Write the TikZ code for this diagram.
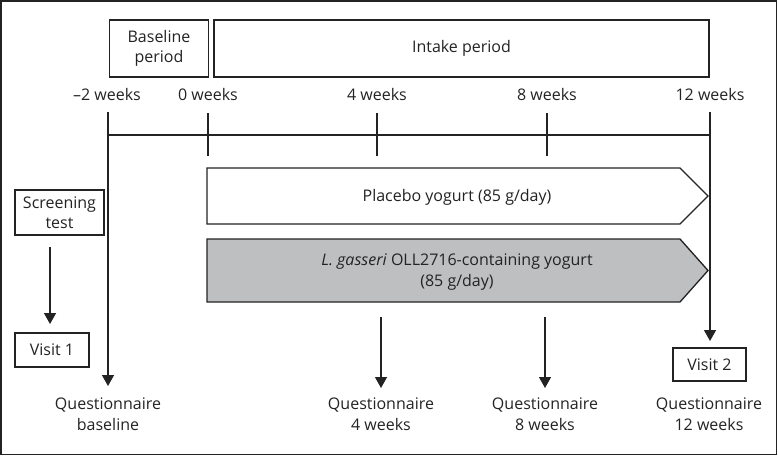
\documentclass[tikz,border=0pt]{standalone}
\usepackage{fontspec}
\setmainfont{Open Sans}
\usetikzlibrary{arrows.meta}
\definecolor{boxgray}{RGB}{190,191,193}
\definecolor{linegray}{RGB}{35,35,35}
\begin{document}
\begin{tikzpicture}[x=1pt,y=-1pt,
  every node/.style={font=\fontsize{16}{20.5}\selectfont, text=linegray},
  boxed/.style={draw=linegray, line width=1.4pt, inner sep=0pt, align=center},
  lbl/.style={align=center, inner sep=0pt},
  tl/.style={draw=linegray, line width=1.3pt},
  arr/.style={tl, -{Triangle[width=12pt,length=11pt]}}
]
\useasboundingbox (0,0) rectangle (778,456);
\draw[draw=linegray, line width=1.3pt] (1,1) rectangle (776.5,454.5);

% period boxes
\node[boxed, minimum width=99.5pt, minimum height=57pt] (base) at (159,48.5) {Baseline\\period};
\node[boxed, minimum width=495pt, minimum height=57pt] (intake) at (461.5,48.5) {Intake period};

% week labels
\node[lbl] (wm2) at (107,94) {–2 weeks};
\node[lbl] (w0) at (208,94) {0 weeks};
\node[lbl] (w4) at (377,94) {4 weeks};
\node[lbl] (w8) at (547,94) {8 weeks};
\node[lbl] (w12) at (710,94) {12 weeks};

% timeline coordinates
\coordinate (tm2) at (108,112);
\coordinate (t0a) at (208,113); \coordinate (t0b) at (208,156);
\coordinate (t4a) at (377,113); \coordinate (t4b) at (377,156);
\coordinate (t8a) at (547,113); \coordinate (t8b) at (547,156);
\coordinate (t12) at (710,112);
\coordinate (hl) at (108,135); \coordinate (hr) at (710,135);
\draw[tl] (hl) -- (hr);
\draw[tl] (t0a) -- (t0b);
\draw[tl] (t4a) -- (t4b);
\draw[tl] (t8a) -- (t8b);

% intake arrows
\draw[draw=linegray, line width=1.3pt, fill=white] (207,168) -- (680,168) -- (708,196) -- (680,224) -- (207,224) -- cycle;
\node[lbl] (plac) at (457,197) {Placebo yogurt (85 g/day)};
\draw[draw=linegray, line width=1.3pt, fill=boxgray] (207,239) -- (680,239) -- (708,270.5) -- (680,302) -- (207,302) -- cycle;
\node[lbl] (gass) at (457,272) {\textit{L. gasseri} OLL2716-containing yogurt\\(85 g/day)};

% left side
\node[boxed, minimum width=89pt, minimum height=45pt] (scr) at (59.5,212.5) {Screening\\test};
\node[boxed, minimum width=74pt, minimum height=34pt] (v1) at (52,350) {Visit 1};
\coordinate (scra) at (50,247);
\coordinate (scrt) at (50,324);
\draw[arr] (scra) -- (scrt);

% questionnaires
\node[lbl] (qb) at (108,414) {Questionnaire\\baseline};
\node[lbl] (q4) at (381,414) {Questionnaire\\4 weeks};
\node[lbl] (q8) at (545,414) {Questionnaire\\8 weeks};
\node[lbl] (q12) at (709,414) {Questionnaire\\12 weeks};
\node[boxed, minimum width=73pt, minimum height=33pt] (v2) at (709.5,364.5) {Visit 2};

\coordinate (q4a) at (381,317); \coordinate (q4t) at (381,388);
\coordinate (q8a) at (545,317); \coordinate (q8t) at (545,388);
\coordinate (qbt) at (108,386);
\coordinate (v2t) at (710,341);
\draw[arr] (tm2) -- (qbt);
\draw[arr] (t12) -- (v2t);
\draw[arr] (q4a) -- (q4t);
\draw[arr] (q8a) -- (q8t);
\end{tikzpicture}
\end{document}
